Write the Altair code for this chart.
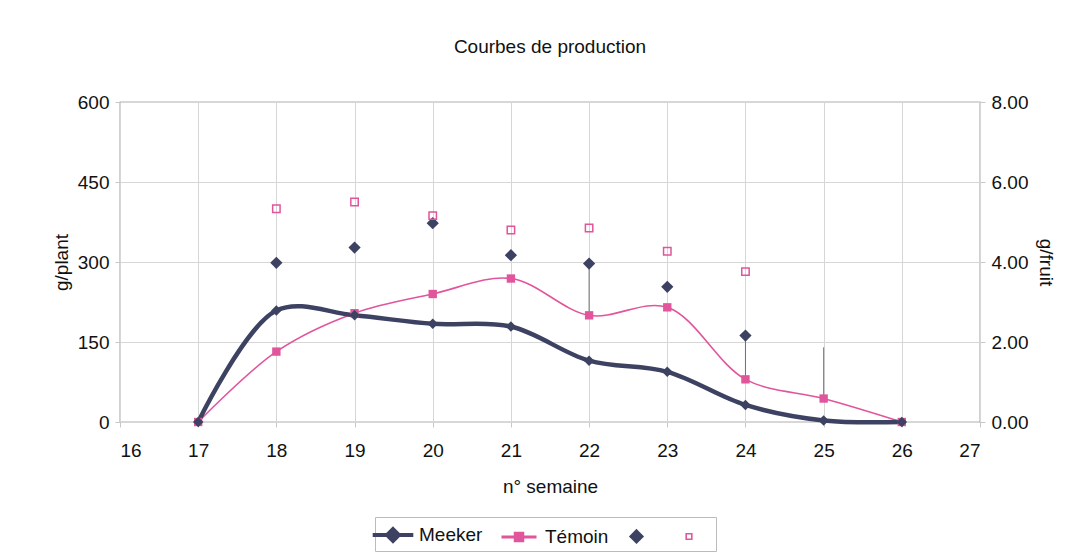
import altair as alt
import pandas as pd

# ---- data ----
weeks = [17, 18, 19, 20, 21, 22, 23, 24, 25, 26]
meeker_gplant = [0, 209, 200, 184, 179, 115, 94, 32, 3, 0]
temoin_gplant = [0, 132, 204, 240, 269, 200, 215, 80, 44, 0]

fruit_weeks = [18, 19, 20, 21, 22, 23, 24]
meeker_gfruit = [3.98, 4.36, 4.97, 4.17, 3.96, 3.38, 2.16]
temoin_gfruit = [5.33, 5.50, 5.16, 4.80, 4.85, 4.27, 3.76]

# thin vertical drop lines visible in the scan (g/plant units)
drop_weeks = [22, 24, 25]
drop_top = [292, 160, 140]
drop_bottom = [200, 80, 44]

series_keys = ["Meeker", "Témoin", "Meeker g/fruit", "Témoin g/fruit"]
NAVY = "#3d4262"
PINK = "#e0559c"
FONT = "Liberation Sans"

df_m = pd.DataFrame({"week": weeks, "v": meeker_gplant})
df_t = pd.DataFrame({"week": weeks, "v": temoin_gplant})
df_fm = pd.DataFrame({"week": fruit_weeks, "v": meeker_gfruit})
df_ft = pd.DataFrame({"week": fruit_weeks, "v": temoin_gfruit})
df_drop = pd.DataFrame({"week": drop_weeks, "top": drop_top, "bottom": drop_bottom})
df_leg = pd.DataFrame({"series": series_keys, "week": [20] * 4, "v": [-500] * 4})

x = alt.X("week:Q", scale=alt.Scale(domain=[16, 27], nice=False),
          axis=alt.Axis(values=list(range(16, 28)), title="n° semaine", grid=True))
yl_scale = alt.Scale(domain=[0, 600], nice=False)
yl_axis = alt.Axis(values=[0, 150, 300, 450, 600], title="g/plant", grid=True)
yr_scale = alt.Scale(domain=[0, 8], nice=False)
yr_axis = alt.Axis(values=[0, 2, 4, 6, 8], format=".2f", title="g/fruit",
                   orient="right", grid=False, titlePadding=8)

drops = alt.Chart(df_drop).mark_rule(color="#555555", strokeWidth=0.8).encode(
    x=x, y=alt.Y("top:Q", scale=yl_scale, axis=yl_axis), y2="bottom:Q")

line_m = alt.Chart(df_m).mark_line(interpolate="catmull-rom", color=NAVY, strokeWidth=4.5).encode(
    x=x, y=alt.Y("v:Q", scale=yl_scale, axis=yl_axis))
pts_m = alt.Chart(df_m).mark_point(shape="diamond", filled=True, color=NAVY, size=110, opacity=1).encode(
    x=x, y=alt.Y("v:Q", scale=yl_scale, axis=yl_axis))
line_t = alt.Chart(df_t).mark_line(interpolate="catmull-rom", color=PINK, strokeWidth=1.6).encode(
    x=x, y=alt.Y("v:Q", scale=yl_scale, axis=yl_axis))
pts_t = alt.Chart(df_t).mark_point(shape="square", filled=True, color=PINK, size=70, opacity=1).encode(
    x=x, y=alt.Y("v:Q", scale=yl_scale, axis=yl_axis))

legend = alt.Legend(
    title=None, orient="none", direction="horizontal",
    legendX=255, legendY=415,
    labelExpr="indexof(datum.label, 'g/fruit') >= 0 ? '' : datum.label",
    symbolSize=784, labelFontSize=19, labelFont=FONT, labelColor="#111111",
    strokeColor="#bbbbbb", padding=2, columnPadding=12, labelOffset=10,
    symbolOpacity=1,
)
leg_layer = alt.Chart(df_leg).mark_point(clip=True).encode(
    x=x, y=alt.Y("v:Q", scale=yl_scale, axis=yl_axis),
    shape=alt.Shape("series:N", scale=alt.Scale(domain=series_keys, range=[
        "M-1.45,0H1.45M0,-0.42L0.42,0L0,0.42L-0.42,0Z",
        "M-1.25,0H1.25M-0.26,-0.26H0.26V0.26H-0.26Z",
        "M0,-0.42L0.42,0L0,0.42L-0.42,0Z",
        "M-0.2,-0.2H0.2V0.2H-0.2Z",
    ]), legend=legend),
    stroke=alt.Stroke("series:N", scale=alt.Scale(domain=series_keys,
                      range=[NAVY, PINK, NAVY, PINK]), legend=legend),
    fill=alt.Fill("series:N", scale=alt.Scale(domain=series_keys,
                  range=[NAVY, PINK, NAVY, "#ffffff"]), legend=legend),
    strokeWidth=alt.StrokeWidth("series:N", scale=alt.Scale(domain=series_keys,
                                range=[4, 1.6, 1, 1.5]), legend=legend),
)

left = alt.layer(drops, line_t, line_m, pts_t, pts_m, leg_layer)

fr_m = alt.Chart(df_fm).mark_point(shape="diamond", filled=True, color=NAVY, size=150, opacity=1).encode(
    x=x, y=alt.Y("v:Q", scale=yr_scale, axis=yr_axis))
fr_t = alt.Chart(df_ft).mark_point(shape="square", filled=False, color=PINK, size=55,
                                   strokeWidth=1.5, opacity=1).encode(
    x=x, y=alt.Y("v:Q", scale=yr_scale, axis=yr_axis))
right = alt.layer(fr_m, fr_t)

chart = alt.layer(left, right).resolve_scale(y="independent").properties(
    width=860, height=320,
    title=alt.TitleParams("Courbes de production", fontSize=19, fontWeight="normal",
                          font=FONT, color="#111111", anchor="middle", offset=36),
    padding={"left": 44, "top": 30, "right": 2, "bottom": 2},
).configure_view(stroke="#666666", strokeWidth=1.2).configure_axis(
    labelFont=FONT, titleFont=FONT, labelFontSize=19, titleFontSize=19,
    titleFontWeight="normal", labelColor="#111111", titleColor="#111111",
    gridColor="#d6d6d6", gridWidth=1, tickColor="#c8c8c8", tickSize=5,
    domain=False, labelPadding=6,
).configure_axisX(titlePadding=17, labelPadding=14).configure_axisLeft(titlePadding=6)

chart.save("out.html", embed_options={"renderer": "svg", "actions": False})
